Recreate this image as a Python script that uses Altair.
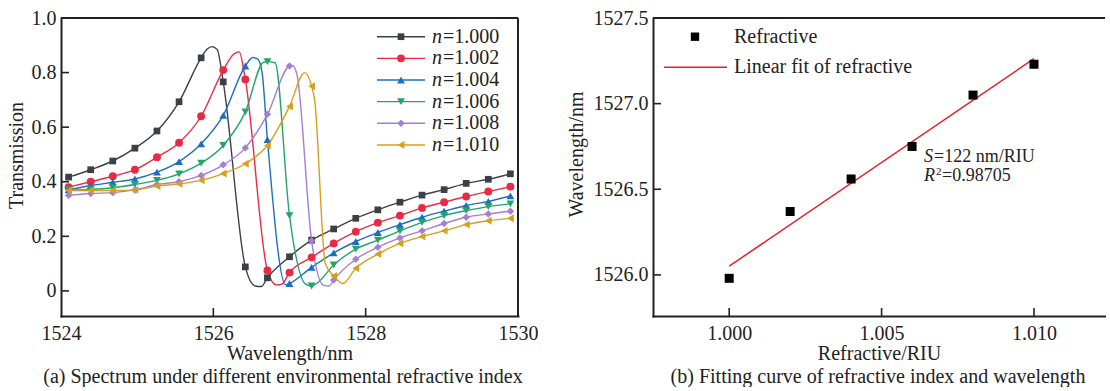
import altair as alt
import pandas as pd

FONT = "Liberation Serif"
INK = "#222222"

# ---------------- panel (a): spectra ----------------
N_LABELS = ["1.000", "1.002", "1.004", "1.006", "1.008", "1.010"]
COLORS = ["#3b3f46", "#ea2a44", "#1b6ec2", "#22a56b", "#a57fd0", "#d6a01e"]
SHAPES = ["square", "circle", "triangle-up", "triangle-down", "diamond", "triangle-left"]
SIZES = [45, 62, 62, 62, 55, 62]

MARK_WL = [1524.10, 1524.39, 1524.68, 1524.97, 1525.26, 1525.55, 1525.84,
           1526.13, 1526.42, 1526.71, 1527.00, 1527.29, 1527.58, 1527.87,
           1528.16, 1528.45, 1528.74, 1529.03, 1529.32, 1529.61, 1529.90]

T_1000 = [0.417, 0.444, 0.476, 0.523, 0.586, 0.693, 0.854, 0.766, 0.088, 0.048, 0.125,
          0.186, 0.227, 0.266, 0.297, 0.325, 0.351, 0.371, 0.394, 0.409, 0.429]
T_1002 = [0.380, 0.400, 0.420, 0.444, 0.490, 0.543, 0.640, 0.809, 0.775, 0.075, 0.067,
          0.123, 0.174, 0.217, 0.250, 0.276, 0.304, 0.325, 0.346, 0.364, 0.382]
T_1004 = [0.370, 0.386, 0.398, 0.410, 0.435, 0.474, 0.539, 0.643, 0.824, 0.554, 0.027,
          0.086, 0.139, 0.181, 0.214, 0.243, 0.270, 0.292, 0.313, 0.328, 0.348]
T_1006 = [0.370, 0.372, 0.378, 0.390, 0.405, 0.429, 0.468, 0.533, 0.656, 0.840, 0.276,
          0.018, 0.095, 0.153, 0.186, 0.220, 0.251, 0.276, 0.294, 0.309, 0.319]
T_1008 = [0.350, 0.357, 0.360, 0.370, 0.390, 0.400, 0.423, 0.462, 0.524, 0.647, 0.824,
          0.184, 0.040, 0.116, 0.160, 0.194, 0.220, 0.247, 0.270, 0.282, 0.292]
T_1010 = [0.368, 0.368, 0.368, 0.370, 0.384, 0.392, 0.405, 0.430, 0.466, 0.533, 0.676,
          0.750, 0.055, 0.083, 0.135, 0.174, 0.199, 0.220, 0.243, 0.257, 0.266]

# extra curve points (peaks / dips) drawn by the line only
EXTRA_1000 = [(1525.92, 0.886), (1525.98, 0.895), (1526.05, 0.885), (1526.55, 0.018), (1526.63, 0.016)]
EXTRA_1002 = [(1526.27, 0.868), (1526.34, 0.876), (1526.83, 0.022), (1526.90, 0.025)]
EXTRA_1004 = [(1526.52, 0.855), (1526.58, 0.850), (1526.64, 0.800), (1526.95, 0.022)]
EXTRA_1006 = [(1526.66, 0.838), (1526.81, 0.836), (1527.21, 0.025), (1527.36, 0.028)]
EXTRA_1008 = [(1527.04, 0.826), (1527.10, 0.790), (1527.45, 0.020), (1527.52, 0.018)]
EXTRA_1010 = [(1527.20, 0.800), (1527.33, 0.700), (1527.47, 0.100), (1527.70, 0.027)]

SERIES_T = [T_1000, T_1002, T_1004, T_1006, T_1008, T_1010]
SERIES_EXTRA = [EXTRA_1000, EXTRA_1002, EXTRA_1004, EXTRA_1006, EXTRA_1008, EXTRA_1010]

X_LABELS_A = [1524, 1526, 1528, 1530]
Y_LABELS_A = [0, 0.2, 0.4, 0.6, 0.8, 1.0]
X_TICKS_A = [1526, 1528]
Y_TICKS_A = [0, 0.2, 0.4, 0.6, 0.8]

# ---------------- panel (b): fit ----------------
RI = [1.000, 1.002, 1.004, 1.006, 1.008, 1.010]
WL_RES = [1525.98, 1526.37, 1526.56, 1526.75, 1527.05, 1527.23]
X_LABELS_B = [1.000, 1.005, 1.010]
Y_LABELS_B = [1526.0, 1526.5, 1527.0, 1527.5]
X_TICKS_B = [1.000, 1.005, 1.010]
Y_TICKS_B = [1526.0, 1526.5, 1527.0]

W_A, H = 457, 298
W_B = 452
TICK = 8

line_rows, mark_rows = [], []
for lab, ts, ex, sz in zip(N_LABELS, SERIES_T, SERIES_EXTRA, SIZES):
    for w, t in zip(MARK_WL, ts):
        line_rows.append({"s": lab, "wl": w, "t": t})
        mark_rows.append({"s": lab, "wl": w, "t": t, "sz": sz})
    for w, t in ex:
        line_rows.append({"s": lab, "wl": w, "t": t})
df_line = pd.DataFrame(line_rows).sort_values(["s", "wl"])
df_mark = pd.DataFrame(mark_rows)

xs_a = alt.Scale(domain=[1524, 1530], nice=False, zero=False)
ys_a = alt.Scale(domain=[-0.092, 1.0], nice=False, zero=False)
color = alt.Color("s:N", scale=alt.Scale(domain=N_LABELS, range=COLORS), legend=None)
shape = alt.Shape("s:N", scale=alt.Scale(domain=N_LABELS, range=SHAPES), legend=None)

x_axis_a = alt.Axis(values=X_LABELS_A, format="d", title="Wavelength/nm", ticks=False,
                    labelPadding=7, titlePadding=0, grid=False, labelFlush=False)
y_axis_a = alt.Axis(values=Y_LABELS_A, labelExpr="datum.value == 0 ? '0' : format(datum.value, '.1f')",
                    title="Transmission", ticks=False, labelPadding=5, titlePadding=5,
                    grid=False, labelFlush=False, titleY=137)

lines_a = alt.Chart(df_line).mark_line(interpolate="monotone", strokeWidth=1.4).encode(
    x=alt.X("wl:Q", scale=xs_a, axis=x_axis_a),
    y=alt.Y("t:Q", scale=ys_a, axis=y_axis_a),
    color=color,
    detail="s:N",
)
points_a = alt.Chart(df_mark).mark_point(filled=True, opacity=1).encode(
    x=alt.X("wl:Q", scale=xs_a),
    y=alt.Y("t:Q", scale=ys_a),
    color=color,
    shape=shape,
    size=alt.Size("sz:Q", scale=None),
)

df_xt_a = pd.DataFrame({"v": X_TICKS_A})
df_yt_a = pd.DataFrame({"v": Y_TICKS_A})
xt_a = alt.Chart(df_xt_a).mark_rule(color=INK, strokeWidth=1.6).encode(
    x=alt.X("v:Q", scale=xs_a), y=alt.value(H), y2=alt.value(H - TICK))
yt_a = alt.Chart(df_yt_a).mark_rule(color=INK, strokeWidth=1.6).encode(
    y=alt.Y("v:Q", scale=ys_a), x=alt.value(0), x2=alt.value(TICK))

one = pd.DataFrame({"k": [0]})
frame_top_a = alt.Chart(one).mark_rule(color=INK, strokeWidth=2).encode(
    x=alt.value(0), x2=alt.value(W_A), y=alt.value(0))
frame_right_a = alt.Chart(one).mark_rule(color=INK, strokeWidth=2).encode(
    x=alt.value(W_A), y=alt.value(0), y2=alt.value(H))

# legend for panel (a)
leg_rows = []
for i, (lab, sz) in enumerate(zip(N_LABELS, SIZES)):
    leg_rows.append({"s": lab, "ly": 18.7 + 21.65 * i, "txt": "=" + lab, "sz": sz})
df_leg = pd.DataFrame(leg_rows)
leg_line = alt.Chart(df_leg).mark_rule(strokeWidth=1.4).encode(
    x=alt.value(316), x2=alt.value(364), y=alt.Y("ly:Q", scale=None), color=color)
leg_pt = alt.Chart(df_leg).mark_point(filled=True, opacity=1).encode(
    x=alt.value(340), y=alt.Y("ly:Q", scale=None), color=color, shape=shape,
    size=alt.Size("sz:Q", scale=None))
leg_n = alt.Chart(df_leg).mark_text(font=FONT, fontSize=20, fontStyle="italic", align="left",
                                    baseline="middle", color=INK).encode(
    x=alt.value(371), y=alt.Y("ly:Q", scale=None), text=alt.value("n"))
leg_txt = alt.Chart(df_leg).mark_text(font=FONT, fontSize=20, align="left",
                                      baseline="middle", color=INK).encode(
    x=alt.value(382), y=alt.Y("ly:Q", scale=None), text="txt:N")

cap_a = alt.Chart(one).mark_text(font=FONT, fontSize=20, align="center", baseline="middle",
                                 color=INK).encode(
    x=alt.value(222), y=alt.value(358.5),
    text=alt.value("(a) Spectrum under different environmental refractive index"))

left = alt.layer(lines_a, points_a, xt_a, yt_a, frame_top_a, frame_right_a,
                 leg_line, leg_pt, leg_n, leg_txt, cap_a).properties(width=W_A, height=H)

# ---------------- panel (b) ----------------
df_b = pd.DataFrame({"ri": RI, "wl": WL_RES})
xs_b = alt.Scale(domain=[0.9975, 1.01233], nice=False, zero=False)
ys_b = alt.Scale(domain=[1525.76, 1527.5], nice=False, zero=False)

x_axis_b = alt.Axis(values=X_LABELS_B, format=".3f", title="Refractive/RIU", ticks=False,
                    labelPadding=7, titlePadding=0, grid=False, labelFlush=False)
y_axis_b = alt.Axis(values=Y_LABELS_B, format=".1f", title="Wavelength/nm", ticks=False,
                    labelPadding=5, titlePadding=7, grid=False, labelFlush=False, titleY=136)

pts_b = alt.Chart(df_b).mark_point(shape="square", filled=True, opacity=1, color="#000000", size=81).encode(
    x=alt.X("ri:Q", scale=xs_b, axis=x_axis_b),
    y=alt.Y("wl:Q", scale=ys_b, axis=y_axis_b),
)
fit_b = alt.Chart(df_b).transform_regression("ri", "wl", extent=[1.0, 1.01]).mark_line(
    color="#e3202c", strokeWidth=1.5).encode(
    x=alt.X("ri:Q", scale=xs_b), y=alt.Y("wl:Q", scale=ys_b))

df_xt_b = pd.DataFrame({"v": X_TICKS_B})
df_yt_b = pd.DataFrame({"v": Y_TICKS_B})
xt_b = alt.Chart(df_xt_b).mark_rule(color=INK, strokeWidth=1.6).encode(
    x=alt.X("v:Q", scale=xs_b), y=alt.value(H), y2=alt.value(H - TICK))
yt_b = alt.Chart(df_yt_b).mark_rule(color=INK, strokeWidth=1.6).encode(
    y=alt.Y("v:Q", scale=ys_b), x=alt.value(0), x2=alt.value(TICK))
frame_top_b = alt.Chart(one).mark_rule(color=INK, strokeWidth=2).encode(
    x=alt.value(0), x2=alt.value(W_B), y=alt.value(0))

leg_sq = alt.Chart(one).mark_point(shape="square", filled=True, opacity=1, color="#000000", size=70).encode(
    x=alt.value(42), y=alt.value(18.7))
leg_t1 = alt.Chart(one).mark_text(font=FONT, fontSize=20, align="left", baseline="middle", color=INK).encode(
    x=alt.value(81), y=alt.value(18.7), text=alt.value("Refractive"))
leg_ln = alt.Chart(one).mark_rule(color="#e3202c", strokeWidth=1.5).encode(
    x=alt.value(11), x2=alt.value(74), y=alt.value(49.3))
leg_t2 = alt.Chart(one).mark_text(font=FONT, fontSize=20, align="left", baseline="middle", color=INK).encode(
    x=alt.value(81), y=alt.value(49.3), text=alt.value("Linear fit of refractive"))

ANN = 18
ann_S = alt.Chart(one).mark_text(font=FONT, fontSize=ANN, fontStyle="italic", align="left",
                                 baseline="middle", color=INK).encode(
    x=alt.value(271), y=alt.value(139), text=alt.value("S"))
ann_S2 = alt.Chart(one).mark_text(font=FONT, fontSize=ANN, align="left", baseline="middle", color=INK).encode(
    x=alt.value(281), y=alt.value(139), text=alt.value("=122 nm/RIU"))
ann_R = alt.Chart(one).mark_text(font=FONT, fontSize=ANN, fontStyle="italic", align="left",
                                 baseline="middle", color=INK).encode(
    x=alt.value(271), y=alt.value(158), text=alt.value("R"))
ann_R2 = alt.Chart(one).mark_text(font=FONT, fontSize=11, align="left", baseline="middle", color=INK).encode(
    x=alt.value(283), y=alt.value(154), text=alt.value("2"))
ann_R3 = alt.Chart(one).mark_text(font=FONT, fontSize=ANN, align="left", baseline="middle", color=INK).encode(
    x=alt.value(289), y=alt.value(158), text=alt.value("=0.98705"))

cap_b = alt.Chart(one).mark_text(font=FONT, fontSize=20, align="center", baseline="middle",
                                 color=INK).encode(
    x=alt.value(225), y=alt.value(358.5),
    text=alt.value("(b) Fitting curve of refractive index and wavelength"))

right = alt.layer(fit_b, pts_b, xt_b, yt_b, frame_top_b, leg_sq, leg_t1, leg_ln, leg_t2,
                  ann_S, ann_S2, ann_R, ann_R2, ann_R3, cap_b).properties(width=W_B, height=H)

chart = alt.hconcat(left, right, spacing=135, bounds="flush").properties(
    padding={"left": 6, "top": 8, "right": 0, "bottom": 0},
    background="white",
).configure_view(stroke=None).configure_axis(
    labelFont=FONT, labelFontSize=20, labelColor=INK,
    titleFont=FONT, titleFontSize=20, titleFontWeight="normal", titleColor=INK,
    domain=True, domainColor=INK, domainWidth=2, domainCap="square",
)

chart.save("out.html", embed_options={"renderer": "svg", "actions": False})
